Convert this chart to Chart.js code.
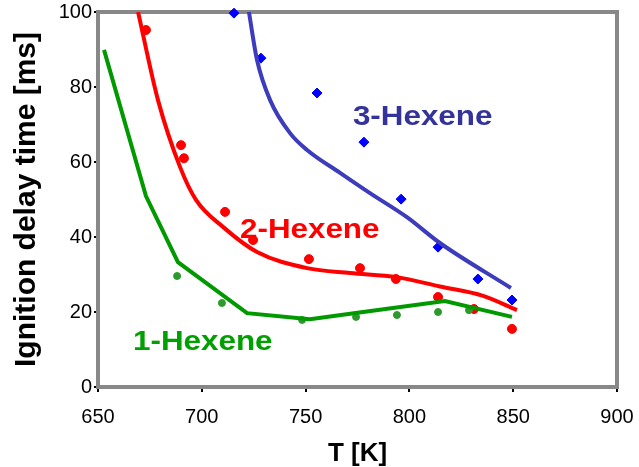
<!DOCTYPE html>
<html>
<head>
<meta charset="utf-8">
<script src="https://cdn.jsdelivr.net/npm/chart.js@4.4.1/dist/chart.umd.min.js"></script>
<style>
html,body{margin:0;padding:0;background:#fff;}
#wrap{width:639px;height:467px;}
</style>
</head>
<body>
<div id="wrap"><canvas id="c" width="639" height="467"></canvas></div>
<script>
// ---- data ----
const xTicks = [650, 700, 750, 800, 850, 900];
const yTicks = [0, 20, 40, 60, 80, 100];

// 1-Hexene
const hex1PtsT = [688.1, 709.7, 748.3, 774.3, 794.0, 813.8, 828.7];
const hex1PtsV = [29.6, 22.4, 17.9, 18.7, 19.2, 20.0, 20.5];
const hex1LineT = [652.9, 673.1, 688.5, 721.8, 752.1, 775.0, 817.1, 849.4];
const hex1LineV = [89.9, 50.9, 33.3, 19.7, 18.1, 19.8, 22.9, 18.7];

// 2-Hexene
const hex2PtsT = [673.1, 690.0, 691.4, 711.2, 724.7, 751.6, 776.2, 793.5, 813.8, 831.1, 849.4];
const hex2PtsV = [95.2, 64.5, 61.0, 46.7, 39.2, 34.1, 31.7, 28.8, 24.0, 20.8, 15.5];
const hex2LineT = [669.3, 678.9, 689.5, 697.2, 710.2, 726.6, 750.7, 771.4, 794.0, 814.7, 835.5, 851.8];
const hex2LineV = [100, 76.5, 58.7, 49.9, 42.7, 36.0, 31.7, 30.4, 29.3, 26.8, 24.3, 20.5];

// 3-Hexene
const hex3PtsT = [715.5, 728.5, 755.5, 778.1, 796.0, 813.8, 833.0, 849.4];
const hex3PtsV = [99.7, 87.7, 78.4, 65.3, 50.1, 37.3, 28.8, 23.2];
const hex3LineT = [722.7, 726.6, 732.9, 742.5, 750.7, 766.6, 781.0, 798.8, 814.7, 848.9];
const hex3LineV = [100, 87.2, 76.5, 67.7, 63.2, 57.1, 51.7, 45.3, 38.4, 26.4];

const seriesNames = ['1-Hexene', '2-Hexene', '3-Hexene'];
const labelAnchorT = [666.9, 718.4, 772.8];
const labelAnchorV = [9.9, 39.7, 69.9];

// ---- helpers ----
const pts = (xs, ys) => xs.map((x, i) => ({x: x, y: ys[i]}));

const colors = {
  green: '#009900', greenPt: '#2e9a2e', greenLbl: '#00a000',
  red: '#ff0000',
  blueLine: '#3c3cbc', bluePt: '#0000ff', blueLbl: '#333399'
};
const labelColors = [colors.greenLbl, colors.red, colors.blueLbl];

const framePlugin = {
  id: 'frame',
  beforeDatasetsDraw(chart) {
    const a = chart.chartArea, ctx = chart.ctx;
    ctx.save();
    ctx.strokeStyle = '#888888';
    ctx.lineWidth = 4;
    ctx.strokeRect(a.left, a.top, a.right - a.left, a.bottom - a.top);
    ctx.restore();
  },
  afterDatasetsDraw(chart) {
    const ctx = chart.ctx, xs = chart.scales.x, ys = chart.scales.y;
    ctx.save();
    ctx.font = 'bold 28px "Liberation Sans", Arial, sans-serif';
    ctx.textAlign = 'left';
    ctx.textBaseline = 'alphabetic';
    seriesNames.forEach((name, i) => {
      const px = xs.getPixelForValue(labelAnchorT[i]);
      const py = ys.getPixelForValue(labelAnchorV[i]);
      ctx.save();
      ctx.translate(px, py);
      ctx.scale(1.12, 1);
      ctx.fillStyle = labelColors[i];
      ctx.fillText(name, 0, 0);
      ctx.restore();
    });
    ctx.restore();
  }
};

new Chart(document.getElementById('c'), {
  type: 'scatter',
  data: {
    datasets: [
      { label: '1-Hexene model', type: 'line', data: pts(hex1LineT, hex1LineV),
        borderColor: colors.green, borderWidth: 4, pointRadius: 0, tension: 0, fill: false },
      { label: '2-Hexene model', type: 'line', data: pts(hex2LineT, hex2LineV),
        borderColor: colors.red, borderWidth: 4, pointRadius: 0, cubicInterpolationMode: 'monotone', fill: false },
      { label: '3-Hexene model', type: 'line', data: pts(hex3LineT, hex3LineV),
        borderColor: colors.blueLine, borderWidth: 4, pointRadius: 0, cubicInterpolationMode: 'monotone', fill: false },
      { label: '1-Hexene', data: pts(hex1PtsT, hex1PtsV), pointStyle: 'circle', pointRadius: 3.5,
        backgroundColor: colors.greenPt, borderColor: colors.greenPt, clip: false },
      { label: '2-Hexene', data: pts(hex2PtsT, hex2PtsV), pointStyle: 'circle', pointRadius: 4.5,
        backgroundColor: colors.red, borderColor: colors.red, clip: false },
      { label: '3-Hexene', data: pts(hex3PtsT, hex3PtsV), pointStyle: 'rectRot', pointRadius: 5,
        backgroundColor: colors.bluePt, borderColor: colors.bluePt, clip: false }
    ]
  },
  options: {
    responsive: false,
    animation: false,
    layout: { padding: { top: 12, right: 22, left: 0, bottom: 0 } },
    plugins: { legend: { display: false }, tooltip: { enabled: false } },
    scales: {
      x: {
        type: 'linear', min: xTicks[0], max: xTicks[xTicks.length - 1],
        afterBuildTicks: (s) => { s.ticks = xTicks.map(v => ({value: v})); },
        afterFit: (s) => { s.height = 80; s.paddingLeft = 0; s.paddingRight = 0; },
        grid: { display: true, drawOnChartArea: false, drawTicks: true, tickLength: 5, color: '#000', lineWidth: 2 },
        border: { display: false },
        ticks: { color: '#000', padding: 13, font: { family: '"Liberation Sans", Arial, sans-serif', size: 20 } },
        title: { display: true, text: 'T [K]', color: '#000', padding: { top: 0, bottom: -2 },
          font: { family: '"Liberation Sans", Arial, sans-serif', size: 26, weight: 'bold' } }
      },
      y: {
        type: 'linear', min: yTicks[0], max: yTicks[yTicks.length - 1],
        afterBuildTicks: (s) => { s.ticks = yTicks.map(v => ({value: v})); },
        afterFit: (s) => { s.width = 98; s.paddingTop = 0; s.paddingBottom = 0; },
        grid: { display: true, drawOnChartArea: false, drawTicks: true, tickLength: 4, color: '#000', lineWidth: 2 },
        border: { display: false },
        ticks: { color: '#000', padding: 2, font: { family: '"Liberation Sans", Arial, sans-serif', size: 20 } },
        title: { display: true, text: 'Ignition delay time [ms]', color: '#000', padding: { top: 9, bottom: 0 },
          font: { family: '"Liberation Sans", Arial, sans-serif', size: 30, weight: 'bold' } }
      }
    }
  },
  plugins: [framePlugin]
});
</script>
</body>
</html>
